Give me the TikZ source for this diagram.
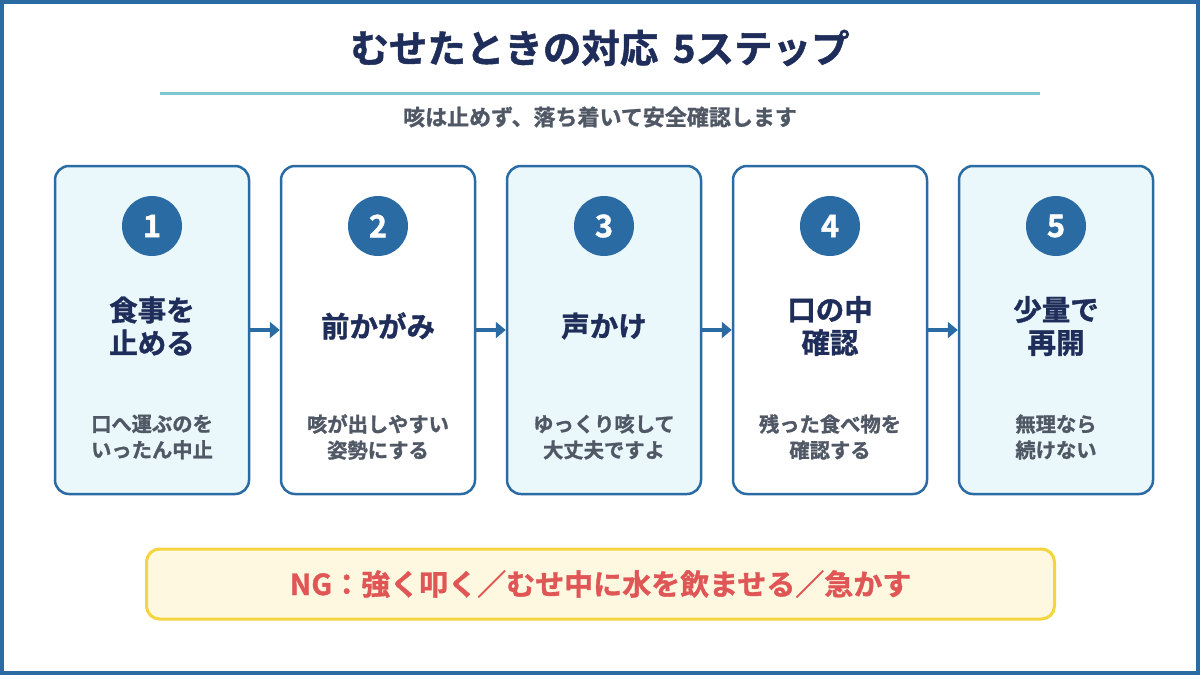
\documentclass[tikz,border=0pt]{standalone}
\usepackage{fontspec}
\setmainfont{Noto Sans CJK JP}[BoldFont={Noto Sans CJK JP Bold}, BoldFeatures={FakeBold=1.2}]
\definecolor{frameblue}{HTML}{2A6BA3}
\definecolor{navy}{HTML}{1F2D5A}
\definecolor{teal}{HTML}{7EC8CF}
\definecolor{gray}{HTML}{505866}
\definecolor{lightcyan}{HTML}{EAF8FB}
\definecolor{ngfill}{HTML}{FEF8E0}
\definecolor{ngline}{HTML}{F5D442}
\definecolor{ngred}{HTML}{E05555}
\tikzset{
  stepbox/.style={draw=frameblue, line width=2.5pt, rounded corners=14pt, minimum width=194pt, minimum height=328pt, inner sep=0pt},
  numcirc/.style={circle, fill=frameblue, minimum size=60pt, inner sep=0pt, text=white, font=\fontsize{31}{31}\selectfont\bfseries},
  headtxt/.style={text=navy, align=center, font=\fontsize{28.5}{33}\selectfont\bfseries},
  subtxt/.style={text=gray, align=center, font=\fontsize{20.3}{26}\selectfont\bfseries},
  flowarrow/.style={draw=frameblue, line width=3.5pt, -{Triangle[length=10pt,width=16pt]}},
}
\usetikzlibrary{arrows.meta}
\begin{document}
\begin{tikzpicture}[x=1pt,y=-1pt]
\useasboundingbox (0,0) rectangle (1200,675);
\fill[white] (0,0) rectangle (1200,675);
\draw[frameblue, line width=4pt] (2,2) rectangle (1198,673);
\node[text=navy, font=\fontsize{38.5}{38}\selectfont\bfseries] (title) at (600,48) {むせたときの対応\hspace{0.15em} 5ステップ};
\coordinate (l1) at (160,93);
\coordinate (l2) at (1040,93);
\draw[teal, line width=3pt] (l1) -- (l2);
\node[text=gray, font=\fontsize{22}{22}\selectfont\bfseries] (subtitle) at (600,117) {咳は止めず、落ち着いて安全確認します};
\foreach \i/\cx/\fillc/\head/\sub in {
  1/152/lightcyan/{食事を\\止める}/{口へ運ぶのを\\いったん中止},
  2/378/white/{前かがみ}/{咳が出しやすい\\姿勢にする},
  3/604/lightcyan/{声かけ}/{ゆっくり咳して\\大丈夫ですよ},
  4/830/white/{口の中\\確認}/{残った食べ物を\\確認する},
  5/1056/lightcyan/{少量で\\再開}/{無理なら\\続けない}}{
  \node[stepbox, fill=\fillc] (box\i) at (\cx,330) {};
  \node[numcirc] (num\i) at (\cx,226) {\i};
  \node[headtxt] (head\i) at (\cx,326) {\head};
  \node[subtxt] (sub\i) at (\cx,437) {\sub};
}
\foreach \a/\b in {1/2,2/3,3/4,4/5}{
  \draw[flowarrow] (box\a.east) -- (box\b.west);
}
\node[draw=ngline, fill=ngfill, line width=3pt, rounded corners=13pt, minimum width=908pt, minimum height=70pt, text=ngred, font=\fontsize{29}{29}\selectfont\bfseries] (ng) at (600.5,584) {NG：強く叩く／むせ中に水を飲ませる／急かす};
\end{tikzpicture}
\end{document}
